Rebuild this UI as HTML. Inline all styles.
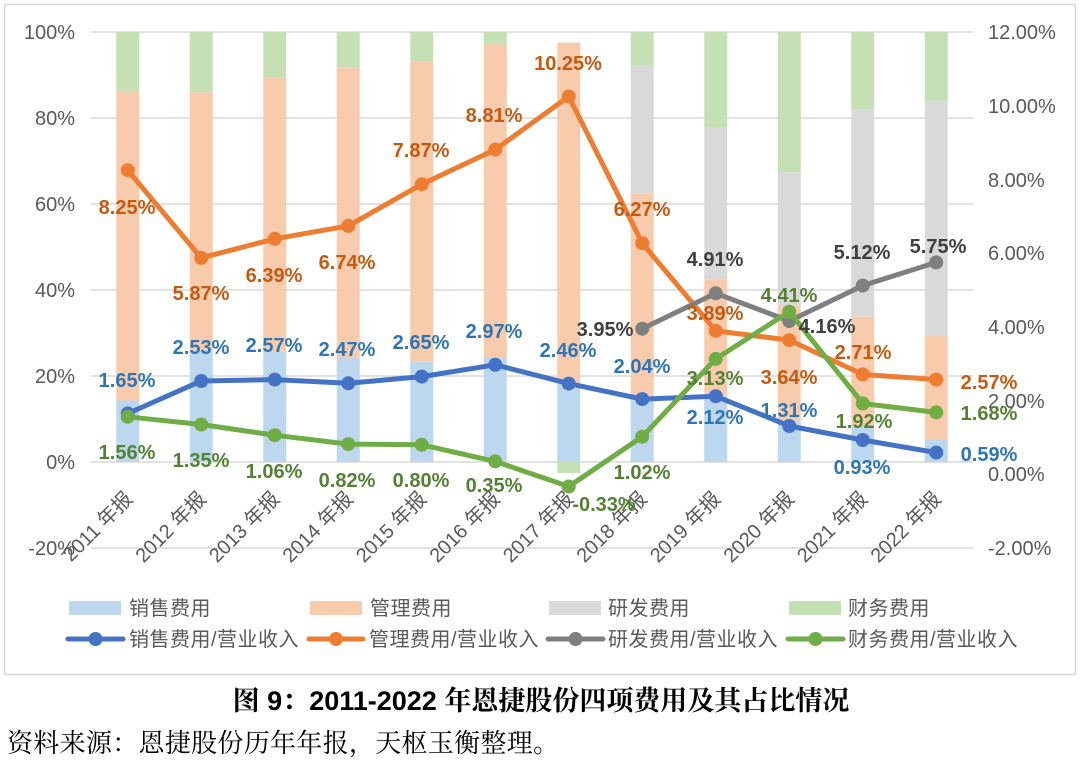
<!DOCTYPE html>
<html>
<head>
<meta charset="utf-8">
<style>
  html,body{margin:0;padding:0;background:#fff;}
  body{width:1080px;height:765px;overflow:hidden;}
  svg{display:block;}
  .ax{font-family:"Liberation Sans","Noto Sans CJK SC",sans-serif;font-size:20px;fill:#595959;}
  .lg{font-family:"Liberation Sans","Noto Sans CJK SC",sans-serif;font-size:20px;fill:#595959;letter-spacing:0.5px;}
  .dl{font-family:"Liberation Sans","Noto Sans CJK SC",sans-serif;font-size:20px;font-weight:bold;text-anchor:middle;}
  .b{fill:#2E75B6;} .o{fill:#C55A11;} .g{fill:#404040;} .gr{fill:#548235;}
</style>
</head>
<body>
<svg width="1080" height="765" viewBox="0 0 1080 765" xmlns="http://www.w3.org/2000/svg">
  <rect x="0" y="0" width="1080" height="765" fill="#fff"/>
  <rect x="4.5" y="4.5" width="1071" height="670" fill="none" stroke="#d9d9d9" stroke-width="1.5"/>

  <g stroke="#d9d9d9" stroke-width="1.5">
    <line x1="91" y1="32" x2="973" y2="32"/>
    <line x1="91" y1="118" x2="973" y2="118"/>
    <line x1="91" y1="204" x2="973" y2="204"/>
    <line x1="91" y1="290" x2="973" y2="290"/>
    <line x1="91" y1="376" x2="973" y2="376"/>
    <line x1="91" y1="462" x2="973" y2="462"/>
    <line x1="91" y1="548" x2="973" y2="548"/>
  </g>

  <g class="ax" text-anchor="end">
    <text x="75" y="39">100%</text>
    <text x="75" y="125">80%</text>
    <text x="75" y="211">60%</text>
    <text x="75" y="297">40%</text>
    <text x="75" y="383">20%</text>
    <text x="75" y="469">0%</text>
    <text x="75" y="555">-20%</text>
  </g>
  <g class="ax" text-anchor="start">
    <text x="988" y="39">12.00%</text>
    <text x="988" y="113">10.00%</text>
    <text x="988" y="187">8.00%</text>
    <text x="988" y="260">6.00%</text>
    <text x="988" y="334">4.00%</text>
    <text x="988" y="408">2.00%</text>
    <text x="988" y="481">0.00%</text>
    <text x="988" y="555">-2.00%</text>
  </g>

  <g>
    <rect x="116.25" y="400.5" width="23" height="61.5" fill="#BDD7EE"/>
    <rect x="116.25" y="90.9" width="23" height="309.6" fill="#F8CBAD"/>
    <rect x="116.25" y="32" width="23" height="58.9" fill="#C5E0B4"/>
    <rect x="189.75" y="350.2" width="23" height="111.8" fill="#BDD7EE"/>
    <rect x="189.75" y="92.2" width="23" height="258" fill="#F8CBAD"/>
    <rect x="189.75" y="32" width="23" height="60.2" fill="#C5E0B4"/>
    <rect x="263.25" y="351.9" width="23" height="110.1" fill="#BDD7EE"/>
    <rect x="263.25" y="77.6" width="23" height="274.3" fill="#F8CBAD"/>
    <rect x="263.25" y="32" width="23" height="45.6" fill="#C5E0B4"/>
    <rect x="336.75" y="357.1" width="23" height="104.9" fill="#BDD7EE"/>
    <rect x="336.75" y="67.7" width="23" height="289.4" fill="#F8CBAD"/>
    <rect x="336.75" y="32" width="23" height="35.7" fill="#C5E0B4"/>
    <rect x="410.25" y="361.8" width="23" height="100.2" fill="#BDD7EE"/>
    <rect x="410.25" y="61.7" width="23" height="300.1" fill="#F8CBAD"/>
    <rect x="410.25" y="32" width="23" height="29.7" fill="#C5E0B4"/>
    <rect x="483.75" y="357.1" width="23" height="104.9" fill="#BDD7EE"/>
    <rect x="483.75" y="44.5" width="23" height="312.6" fill="#F8CBAD"/>
    <rect x="483.75" y="32" width="23" height="12.5" fill="#C5E0B4"/>
    <rect x="557.25" y="382.5" width="23" height="79.5" fill="#BDD7EE"/>
    <rect x="557.25" y="42.7" width="23" height="339.8" fill="#F8CBAD"/>
    <rect x="557.25" y="462" width="23" height="11" fill="#C5E0B4"/>
    <rect x="630.75" y="400.1" width="23" height="61.9" fill="#BDD7EE"/>
    <rect x="630.75" y="193.3" width="23" height="206.8" fill="#F8CBAD"/>
    <rect x="630.75" y="65.1" width="23" height="128.2" fill="#D9D9D9"/>
    <rect x="630.75" y="32" width="23" height="33.1" fill="#C5E0B4"/>
    <rect x="704.25" y="395.4" width="23" height="66.6" fill="#BDD7EE"/>
    <rect x="704.25" y="279.3" width="23" height="116.1" fill="#F8CBAD"/>
    <rect x="704.25" y="127.9" width="23" height="151.4" fill="#D9D9D9"/>
    <rect x="704.25" y="32" width="23" height="95.9" fill="#C5E0B4"/>
    <rect x="777.75" y="421.6" width="23" height="40.4" fill="#BDD7EE"/>
    <rect x="777.75" y="305.1" width="23" height="116.5" fill="#F8CBAD"/>
    <rect x="777.75" y="172.2" width="23" height="132.9" fill="#D9D9D9"/>
    <rect x="777.75" y="32" width="23" height="140.2" fill="#C5E0B4"/>
    <rect x="851.25" y="425" width="23" height="37" fill="#BDD7EE"/>
    <rect x="851.25" y="316.7" width="23" height="108.3" fill="#F8CBAD"/>
    <rect x="851.25" y="109" width="23" height="207.7" fill="#D9D9D9"/>
    <rect x="851.25" y="32" width="23" height="77" fill="#C5E0B4"/>
    <rect x="924.75" y="439.2" width="23" height="22.8" fill="#BDD7EE"/>
    <rect x="924.75" y="335.2" width="23" height="104" fill="#F8CBAD"/>
    <rect x="924.75" y="100.8" width="23" height="234.4" fill="#D9D9D9"/>
    <rect x="924.75" y="32" width="23" height="68.8" fill="#C5E0B4"/>
  </g>

  <g class="ax" text-anchor="end">
    <text transform="translate(133.75,500) rotate(-45)">2011 年报</text>
    <text transform="translate(207.25,500) rotate(-45)">2012 年报</text>
    <text transform="translate(280.75,500) rotate(-45)">2013 年报</text>
    <text transform="translate(354.25,500) rotate(-45)">2014 年报</text>
    <text transform="translate(427.75,500) rotate(-45)">2015 年报</text>
    <text transform="translate(501.25,500) rotate(-45)">2016 年报</text>
    <text transform="translate(574.75,500) rotate(-45)">2017 年报</text>
    <text transform="translate(648.25,500) rotate(-45)">2018 年报</text>
    <text transform="translate(721.75,500) rotate(-45)">2019 年报</text>
    <text transform="translate(795.25,500) rotate(-45)">2020 年报</text>
    <text transform="translate(868.75,500) rotate(-45)">2021 年报</text>
    <text transform="translate(942.25,500) rotate(-45)">2022 年报</text>
  </g>

  <g fill="none" stroke-width="5" stroke-linejoin="round" stroke-linecap="round">
    <polyline stroke="#4472C4" points="127.75,413.5 201.25,381.0 274.75,379.6 348.25,383.3 421.75,376.6 495.25,364.8 568.75,383.6 642.25,399.1 715.75,396.2 789.25,426.0 862.75,440.0 936.25,452.6"/>
  </g>
  <g fill="#4472C4">
    <circle cx="127.75" cy="413.5" r="7"/><circle cx="201.25" cy="381.0" r="7"/><circle cx="274.75" cy="379.6" r="7"/><circle cx="348.25" cy="383.3" r="7"/><circle cx="421.75" cy="376.6" r="7"/><circle cx="495.25" cy="364.8" r="7"/><circle cx="568.75" cy="383.6" r="7"/><circle cx="642.25" cy="399.1" r="7"/><circle cx="715.75" cy="396.2" r="7"/><circle cx="789.25" cy="426.0" r="7"/><circle cx="862.75" cy="440.0" r="7"/><circle cx="936.25" cy="452.6" r="7"/>
  </g>
  <g fill="none" stroke-width="5" stroke-linejoin="round" stroke-linecap="round">
    <polyline stroke="#ED7D31" points="127.75,170.2 201.25,257.9 274.75,238.8 348.25,225.9 421.75,184.2 495.25,149.6 568.75,96.5 642.25,243.2 715.75,330.9 789.25,340.1 862.75,374.4 936.25,379.6"/>
  </g>
  <g fill="#ED7D31">
    <circle cx="127.75" cy="170.2" r="7"/><circle cx="201.25" cy="257.9" r="7"/><circle cx="274.75" cy="238.8" r="7"/><circle cx="348.25" cy="225.9" r="7"/><circle cx="421.75" cy="184.2" r="7"/><circle cx="495.25" cy="149.6" r="7"/><circle cx="568.75" cy="96.5" r="7"/><circle cx="642.25" cy="243.2" r="7"/><circle cx="715.75" cy="330.9" r="7"/><circle cx="789.25" cy="340.1" r="7"/><circle cx="862.75" cy="374.4" r="7"/><circle cx="936.25" cy="379.6" r="7"/>
  </g>
  <g fill="none" stroke-width="5" stroke-linejoin="round" stroke-linecap="round">
    <polyline stroke="#7F7F7F" points="642.25,328.7 715.75,293.3 789.25,321.0 862.75,285.6 936.25,262.4"/>
  </g>
  <g fill="#7F7F7F">
    <circle cx="642.25" cy="328.7" r="7"/><circle cx="715.75" cy="293.3" r="7"/><circle cx="789.25" cy="321.0" r="7"/><circle cx="862.75" cy="285.6" r="7"/><circle cx="936.25" cy="262.4" r="7"/>
  </g>
  <g fill="none" stroke-width="5" stroke-linejoin="round" stroke-linecap="round">
    <polyline stroke="#70AD47" points="127.75,416.8 201.25,424.5 274.75,435.2 348.25,444.1 421.75,444.8 495.25,461.4 568.75,486.5 642.25,436.7 715.75,358.9 789.25,311.7 862.75,403.5 936.25,412.4"/>
  </g>
  <g fill="#70AD47">
    <circle cx="127.75" cy="416.8" r="7"/><circle cx="201.25" cy="424.5" r="7"/><circle cx="274.75" cy="435.2" r="7"/><circle cx="348.25" cy="444.1" r="7"/><circle cx="421.75" cy="444.8" r="7"/><circle cx="495.25" cy="461.4" r="7"/><circle cx="568.75" cy="486.5" r="7"/><circle cx="642.25" cy="436.7" r="7"/><circle cx="715.75" cy="358.9" r="7"/><circle cx="789.25" cy="311.7" r="7"/><circle cx="862.75" cy="403.5" r="7"/><circle cx="936.25" cy="412.4" r="7"/>
  </g>

  <g class="dl o">
    <text x="127" y="214">8.25%</text>
    <text x="201" y="300">5.87%</text>
    <text x="274" y="282">6.39%</text>
    <text x="347" y="269">6.74%</text>
    <text x="421" y="157">7.87%</text>
    <text x="494" y="122">8.81%</text>
    <text x="568" y="70">10.25%</text>
    <text x="642" y="216">6.27%</text>
    <text x="715" y="320">3.89%</text>
    <text x="789" y="384">3.64%</text>
    <text x="863" y="359">2.71%</text>
    <text x="989" y="389">2.57%</text>
  </g>
  <g class="dl b">
    <text x="127" y="387">1.65%</text>
    <text x="201" y="354">2.53%</text>
    <text x="274" y="352">2.57%</text>
    <text x="347" y="356">2.47%</text>
    <text x="421" y="349">2.65%</text>
    <text x="494" y="338">2.97%</text>
    <text x="568" y="357">2.46%</text>
    <text x="642" y="373">2.04%</text>
    <text x="715" y="424">2.12%</text>
    <text x="789" y="417">1.31%</text>
    <text x="862" y="474">0.93%</text>
    <text x="989" y="461">0.59%</text>
  </g>
  <g class="dl g">
    <text x="605" y="336">3.95%</text>
    <text x="715" y="266">4.91%</text>
    <text x="827" y="333">4.16%</text>
    <text x="862" y="259">5.12%</text>
    <text x="938" y="253">5.75%</text>
  </g>
  <g class="dl gr">
    <text x="127" y="459">1.56%</text>
    <text x="201" y="467">1.35%</text>
    <text x="274" y="478">1.06%</text>
    <text x="347" y="487">0.82%</text>
    <text x="421" y="487">0.80%</text>
    <text x="494" y="492">0.35%</text>
    <text x="604" y="511">-0.33%</text>
    <text x="642" y="479">1.02%</text>
    <text x="715" y="385">3.13%</text>
    <text x="789" y="302">4.41%</text>
    <text x="864" y="428">1.92%</text>
    <text x="989" y="420">1.68%</text>
  </g>

  <rect x="69" y="601" width="52" height="14" fill="#BDD7EE"/>
  <text class="lg" x="129" y="615">销售费用</text>
  <rect x="310" y="601" width="52" height="14" fill="#F8CBAD"/>
  <text class="lg" x="370" y="615">管理费用</text>
  <rect x="549" y="601" width="52" height="14" fill="#D9D9D9"/>
  <text class="lg" x="608" y="615">研发费用</text>
  <rect x="789" y="601" width="52" height="14" fill="#C5E0B4"/>
  <text class="lg" x="848" y="615">财务费用</text>

  <line x1="68" y1="639" x2="123" y2="639" stroke="#4472C4" stroke-width="5" stroke-linecap="round"/>
  <circle cx="95.5" cy="639" r="7" fill="#4472C4"/>
  <text class="lg" x="129" y="646">销售费用/营业收入</text>
  <line x1="309" y1="639" x2="363" y2="639" stroke="#ED7D31" stroke-width="5" stroke-linecap="round"/>
  <circle cx="336" cy="639" r="7" fill="#ED7D31"/>
  <text class="lg" x="369" y="646">管理费用/营业收入</text>
  <line x1="548" y1="639" x2="603" y2="639" stroke="#7F7F7F" stroke-width="5" stroke-linecap="round"/>
  <circle cx="575.5" cy="639" r="7" fill="#7F7F7F"/>
  <text class="lg" x="608" y="646">研发费用/营业收入</text>
  <line x1="788" y1="639" x2="843" y2="639" stroke="#70AD47" stroke-width="5" stroke-linecap="round"/>
  <circle cx="815.5" cy="639" r="7" fill="#70AD47"/>
  <text class="lg" x="848" y="646">财务费用/营业收入</text>

  <text x="541" y="710" text-anchor="middle" font-family="'Liberation Sans','Noto Serif CJK SC',serif" font-size="27" font-weight="bold" fill="#000">图 9：2011-2022 年恩捷股份四项费用及其占比情况</text>
  <text x="7" y="752" font-family="'Liberation Serif','Noto Serif CJK SC',serif" font-size="26" fill="#000" letter-spacing="0.3">资料来源：恩捷股份历年年报，天枢玉衡整理。</text>
</svg>
</body>
</html>
